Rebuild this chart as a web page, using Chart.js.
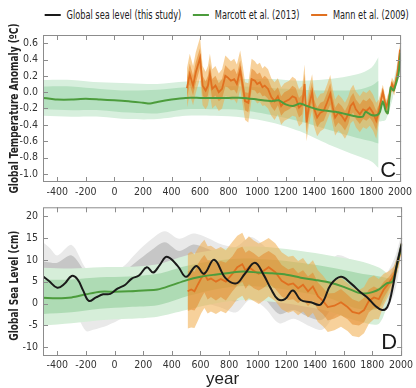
<!DOCTYPE html>
<html>
<head>
<meta charset="utf-8">
<script src="https://cdn.jsdelivr.net/npm/chart.js@4.4.0/dist/chart.umd.min.js"></script>
<style>
body { margin: 0; background: #fff; width: 416px; height: 388px; overflow: hidden; position: relative; }
canvas { position: absolute; left: 0; }
#top { top: 0; }
#bot { top: 196px; }
#legend { position: absolute; top: 7px; right: 7px; display: flex; align-items: center;
  font: 12.5px "DejaVu Sans Condensed", "Liberation Sans Narrow", sans-serif; color: #222; white-space: nowrap;
  transform: scaleX(0.73); transform-origin: right center; }
#legend span { display: flex; align-items: center; margin-left: 16px; }
#legend i { display: inline-block; width: 22px; height: 2px; margin-right: 8px; }
</style>
</head>
<body>
<div id="legend"></div>
<canvas id="top" width="416" height="200"></canvas>
<canvas id="bot" width="416" height="192"></canvas>
<script>
var FONT = '"DejaVu Sans Condensed", "Liberation Sans Narrow", sans-serif';

// legend / series names
var seriesNames = ['Global sea level (this study)', 'Marcott et al. (2013)', 'Mann et al. (2009)'];
var seriesColors = ['#1a1a1a', '#4c9c3c', '#e07020'];

// tick labels
var xTicks = [-400, -200, 0, 200, 400, 600, 800, 1000, 1200, 1400, 1600, 1800, 2000];
var tempTicks = [-1.0, -0.8, -0.6, -0.4, -0.2, 0.0, 0.2, 0.4, 0.6];
var seaTicks = [-10, -5, 0, 5, 10, 15, 20];

// ---- panel C : temperature ----
var marcottTempYears = [-500,-450,-400,-300,-200,-100,0,100,200,250,300,400,500,600,700,800,900,1000,1100,1150,1200,1250,1300,1350,1400,1450,1500,1550,1600,1650,1700,1740,1760,1800,1840,1860,1880,1900,1915,1935,1955,1975,1990,2005];
var marcottTemp = [-0.07,-0.08,-0.09,-0.09,-0.08,-0.09,-0.10,-0.11,-0.13,-0.14,-0.12,-0.09,-0.07,-0.07,-0.07,-0.07,-0.07,-0.09,-0.11,-0.10,-0.15,-0.17,-0.14,-0.17,-0.20,-0.22,-0.23,-0.24,-0.26,-0.28,-0.30,-0.30,-0.24,-0.28,-0.28,-0.24,-0.11,-0.23,-0.26,0.06,0.02,0.12,0.22,0.48];

var tempBandYears = [-500,-300,-100,100,300,500,700,900,1100,1300,1500,1700,1800,1850];
var tempOuterHi = [0.15,0.15,0.12,0.11,0.10,0.13,0.15,0.16,0.16,0.14,0.16,0.22,0.30,0.43];
var tempOuterLo = [-0.29,-0.30,-0.30,-0.33,-0.33,-0.29,-0.29,-0.31,-0.37,-0.48,-0.64,-0.78,-0.85,-0.93];
var tempInnerHi = [0.07,0.07,0.04,0.02,0.03,0.06,0.07,0.07,0.05,0.03,0.02,0.03,0.08,0.14];
var tempInnerLo = [-0.21,-0.22,-0.22,-0.25,-0.26,-0.21,-0.21,-0.22,-0.28,-0.36,-0.46,-0.56,-0.60,-0.63];
var tempRecentYears = [1852,1900,1950,2005];
var tempRecentHi = [-0.14,-0.14,0.10,0.56];
var tempRecentLo = [-0.36,-0.34,-0.07,0.40];

var mannTempYears = [508,528,551,570,600,618,639,655,669,685,708,731,754,777,793,816,839,858,881,899,915,938,961,984,1000,1019,1037,1053,1076,1099,1122,1145,1168,1191,1224,1247,1270,1293,1316,1332,1346,1362,1385,1397,1420,1443,1466,1489,1512,1530,1546,1569,1592,1615,1638,1654,1673,1691,1719,1742,1765,1788,1811,1834,1852,1880,1903,1921,1944,1960,1983,2000];
var mannTemp = [0.05,0.22,0.08,0.24,0.42,0.08,0.02,0.08,0.22,0.04,0.08,0.00,0.04,0.20,0.18,0.14,0.16,0.10,0.27,0.08,-0.11,-0.13,0.16,0.14,0.10,0.12,0.06,0.08,0.04,-0.06,-0.11,-0.05,-0.17,-0.12,-0.09,-0.05,-0.07,-0.19,-0.15,0.10,-0.37,-0.17,0.00,-0.19,-0.31,-0.25,-0.23,-0.13,-0.02,-0.19,-0.31,-0.25,-0.29,-0.35,-0.27,-0.17,-0.13,-0.21,-0.27,-0.21,-0.23,-0.19,-0.25,-0.35,-0.23,0.00,-0.19,-0.09,0.10,0.04,0.24,0.52];
var mannTempInner = [0.12,0.13,0.12,0.13,0.12,0.12,0.11,0.12,0.13,0.12,0.12,0.11,0.12,0.13,0.12,0.12,0.13,0.12,0.12,0.12,0.11,0.12,0.13,0.12,0.12,0.12,0.11,0.12,0.12,0.12,0.12,0.11,0.12,0.12,0.12,0.13,0.12,0.12,0.12,0.13,0.12,0.12,0.12,0.11,0.12,0.12,0.12,0.12,0.13,0.12,0.12,0.12,0.12,0.12,0.12,0.11,0.12,0.12,0.12,0.12,0.12,0.12,0.12,0.12,0.08,0.05,0.05,0.05,0.04,0.04,0.04,0.04];
var mannTempOuter = [0.24,0.25,0.24,0.25,0.25,0.24,0.23,0.24,0.25,0.24,0.24,0.23,0.24,0.25,0.24,0.24,0.25,0.24,0.24,0.24,0.23,0.24,0.25,0.24,0.24,0.24,0.23,0.24,0.24,0.23,0.23,0.22,0.23,0.23,0.23,0.24,0.23,0.23,0.23,0.24,0.23,0.22,0.22,0.22,0.23,0.23,0.22,0.22,0.23,0.22,0.22,0.22,0.22,0.22,0.22,0.21,0.22,0.22,0.22,0.22,0.22,0.22,0.22,0.22,0.14,0.09,0.09,0.09,0.08,0.08,0.08,0.07];

// ---- panel D : sea level ----
var blackYears = [-500,-460,-400,-350,-300,-260,-220,-180,-130,-80,-30,20,75,120,170,225,270,315,365,440,500,570,625,695,775,850,910,980,1040,1090,1140,1190,1245,1300,1370,1440,1510,1580,1650,1720,1765,1820,1868,1905,1937,1972,2006];
var blackSea = [6.2,5.2,3.6,4.5,6.3,5.6,3.0,0.6,1.4,2.1,2.2,3.4,4.3,5.7,6.4,8.3,7.1,8.8,10.7,8.6,6.1,8.6,6.8,10.0,5.8,4.6,6.8,9.3,6.6,3.5,1.0,1.0,3.0,0.8,0.3,-0.2,4.3,6.1,4.6,2.5,1.4,-0.5,-1.5,-0.8,2.8,9.0,13.7];

var greyYears = [-500,-450,-400,-300,-200,-150,-50,50,150,250,350,450,550,650,750,850,950,1050,1150,1250,1350,1450,1550,1650,1750,1850,1950,2005];
var greyLightHi = [14.0,12.6,11.0,13.4,8.0,7.5,7.5,8.2,11.5,14.5,16.5,14.8,16.0,15.0,13.5,13.0,15.2,13.0,9.5,10.0,8.5,7.5,11.0,10.0,8.0,5.0,10.0,16.0];
var greyDarkHi = [9.6,9.4,9.3,11.0,7.0,6.0,6.0,7.0,9.5,12.0,14.0,12.0,13.5,12.5,11.0,10.5,12.8,10.5,6.5,7.5,5.5,4.5,8.5,7.5,5.5,2.5,8.5,15.0];
var greyDarkLo = [1.5,0.5,-0.5,1.5,-3.5,-3.5,-2.5,-1.0,0.5,2.5,5.5,3.5,3.5,2.5,1.5,0.5,3.0,1.0,-2.4,-1.5,-3.0,-3.7,0.0,-1.0,-2.0,-2.5,4.0,12.5];
var greyLightLo = [-1.5,-2.5,-3.0,-1.0,-6.3,-6.0,-5.0,-3.5,-2.0,0.0,2.0,1.0,1.0,0.0,-1.0,-2.0,1.0,-1.0,-4.5,-3.5,-5.0,-6.0,-2.5,-3.0,-3.0,-3.0,2.0,11.0];

var marcottSeaYears = [-500,-400,-300,-200,-100,0,100,200,300,400,500,600,700,800,900,1000,1100,1200,1300,1400,1500,1600,1700,1750,1800,1850,1900,1940,1970,2005];
var marcottSea = [1.3,1.2,1.4,2.1,2.7,2.7,2.8,3.0,3.2,4.2,5.3,6.1,6.6,7.0,7.3,7.1,6.9,6.6,5.9,5.4,4.8,3.8,2.5,2.3,2.6,3.3,4.6,5.0,8.5,13.5];

var seaBandYears = [-500,-300,-100,100,300,500,700,900,1100,1300,1500,1700,1850,1935];
var seaOuterHi = [8.2,8.0,8.3,8.4,9.0,11.0,12.3,13.0,12.8,12.0,11.0,9.8,8.2,6.0];
var seaOuterLo = [-5.0,-4.5,-3.8,-3.5,-3.0,-1.5,0.0,0.8,0.4,-0.5,-1.8,-4.0,-4.5,4.0];
var seaInnerHi = [5.4,5.5,6.0,6.2,6.8,8.6,9.8,10.3,10.0,9.3,8.3,7.0,6.2,5.6];
var seaInnerLo = [-2.4,-2.0,-1.2,-0.8,-0.4,1.6,3.2,4.0,3.6,2.6,1.2,-1.2,-1.0,4.4];

var mannSeaYears = [510,535,558,581,604,627,650,673,708,742,777,823,857,892,915,938,972,1007,1041,1076,1122,1167,1213,1247,1282,1316,1351,1385,1420,1455,1489,1535,1581,1627,1661,1707,1742,1776,1811,1845,1880,1914,1949,1983,2006];
var mannSea = [2.8,3.2,2.8,4.3,5.7,6.8,5.4,5.7,5.0,5.6,5.0,6.8,8.3,9.0,7.5,8.3,7.5,6.8,7.5,8.3,7.2,5.2,4.3,4.6,3.5,4.3,2.8,3.9,1.7,0.6,-0.8,-0.5,0.3,-0.8,-1.9,-2.3,-1.5,0.6,1.4,1.0,3.2,4.6,6.4,9.7,13.7];
var mannSeaInner = [4.5,4.6,4.4,4.7,4.5,4.3,4.5,4.2,4.3,4.1,4.3,4.0,4.2,4.0,4.1,3.9,4.0,3.8,3.9,3.7,3.8,3.6,3.5,3.6,3.4,3.3,3.4,3.2,3.1,3.0,3.1,2.9,3.0,2.8,2.9,2.7,2.8,2.6,2.5,2.3,1.8,1.4,1.0,0.8,0.6];
var mannSeaOuter = [8.5,8.7,8.4,8.3,8.0,7.8,7.7,7.5,7.4,7.3,7.2,7.3,7.2,7.2,7.0,7.1,6.9,6.9,6.8,6.7,6.6,6.5,6.4,6.3,6.2,6.1,6.0,6.0,5.9,5.8,5.7,5.6,5.6,5.5,5.5,5.4,5.3,5.2,5.0,4.6,3.6,2.8,2.0,1.5,1.0];

// legend
var leg = document.getElementById('legend');
seriesNames.forEach(function (n, i) {
    var s = document.createElement('span');
    s.innerHTML = '<i style="background:' + seriesColors[i] + '"></i>' + n;
    leg.appendChild(s);
});

function pts(xs, ys) {
    return xs.map(function (x, k) { return {x: x, y: ys[k]}; });
}
function addLine(list, xs, ys, color, width, order, tension) {
    list.push({data: pts(xs, ys), borderColor: color, borderWidth: width, pointRadius: 0,
        fill: false, tension: tension || 0, order: order});
}
function addBand(list, xs, hi, lo, color, order, tension) {
    var i = list.length;
    list.push({data: pts(xs, hi), fill: i + 1, backgroundColor: color, borderWidth: 0,
        borderColor: 'transparent', pointRadius: 0, tension: tension || 0, order: order});
    list.push({data: pts(xs, lo), fill: false, borderWidth: 0, borderColor: 'transparent',
        pointRadius: 0, tension: tension || 0, order: order});
}
function plus(a, b, s) {
    return a.map(function (v, k) { return v + s * b[k]; });
}

// frame, inner tick marks, y title (condensed) and panel letter
var frame = {
    id: 'frame',
    afterDatasetsDraw: function (chart, args, opts) {
        var ctx = chart.ctx, a = chart.chartArea, x = chart.scales.x, y = chart.scales.y;
        ctx.save();
        ctx.strokeStyle = '#8c8c8c';
        ctx.lineWidth = 1;
        ctx.strokeRect(a.left + 0.5, a.top + 0.5, a.right - a.left - 1, a.bottom - a.top - 1);
        ctx.beginPath();
        x.ticks.forEach(function (t) {
            var p = Math.round(x.getPixelForValue(t.value)) + 0.5;
            ctx.moveTo(p, a.top); ctx.lineTo(p, a.top + 5);
            ctx.moveTo(p, a.bottom); ctx.lineTo(p, a.bottom - 5);
        });
        y.ticks.forEach(function (t) {
            var p = Math.round(y.getPixelForValue(t.value)) + 0.5;
            ctx.moveTo(a.left, p); ctx.lineTo(a.left + 5, p);
            ctx.moveTo(a.right, p); ctx.lineTo(a.right - 5, p);
        });
        ctx.stroke();
        ctx.fillStyle = '#1a1a1a';
        ctx.font = '22px "Liberation Sans", Arial, sans-serif';
        ctx.textAlign = 'right';
        ctx.textBaseline = 'alphabetic';
        ctx.fillText(opts.letter, a.right - 5, a.bottom - opts.lift);
        ctx.translate(15, (a.top + a.bottom) / 2 + opts.titleShift);
        ctx.rotate(-Math.PI / 2);
        ctx.scale(0.8, 1);
        ctx.font = 'bold 12.5px ' + FONT;
        ctx.textAlign = 'center';
        ctx.textBaseline = 'middle';
        ctx.fillStyle = '#222';
        ctx.fillText(opts.title, 0, 0);
        ctx.restore();
    }
};

function makeScales(yMin, yMax, yT, fmt, xHeight, xPad, xTitle) {
    return {
        x: {
            type: 'linear', min: -500, max: 2008,
            grid: {display: false, drawTicks: false}, border: {display: false},
            ticks: {font: {family: FONT, size: 10.5}, color: '#333', padding: xPad, maxRotation: 0,
                callback: function (v) { return String(v); }},
            afterBuildTicks: function (s) { s.ticks = xTicks.map(function (v) { return {value: v}; }); },
            afterFit: function (s) { s.height = xHeight; },
            title: xTitle ? {display: true, text: xTitle, color: '#222',
                font: {family: '"Liberation Sans", Arial, sans-serif', size: 17, lineHeight: 1},
                padding: {top: 0, bottom: 0}} : {display: false}
        },
        y: {
            min: yMin, max: yMax,
            grid: {display: false, drawTicks: false}, border: {display: false},
            ticks: {font: {family: FONT, size: 10.5}, color: '#333', padding: 5, callback: fmt},
            afterBuildTicks: function (s) { s.ticks = yT.map(function (v) { return {value: v}; }); },
            afterFit: function (s) { s.width = 43; }
        }
    };
}

// panel C datasets
var dsC = [];
addLine(dsC, marcottTempYears, marcottTemp, seriesColors[1], 2, 1, 0.2);
addLine(dsC, mannTempYears, mannTemp, seriesColors[2], 1.8, 2, 0);
addBand(dsC, mannTempYears, plus(mannTemp, mannTempInner, 1), plus(mannTemp, mannTempInner, -1), 'rgba(228,132,36,0.55)', 10, 0);
addBand(dsC, mannTempYears, plus(mannTemp, mannTempOuter, 1), plus(mannTemp, mannTempOuter, -1), 'rgba(240,172,72,0.55)', 11, 0);
addBand(dsC, tempBandYears, tempInnerHi, tempInnerLo, '#b5e0c0', 20, 0.3);
addBand(dsC, tempBandYears, tempOuterHi, tempOuterLo, '#d7efdd', 21, 0.3);
addBand(dsC, tempRecentYears, tempRecentHi, tempRecentLo, '#d7efdd', 21, 0.2);

new Chart(document.getElementById('top'), {
    type: 'line',
    data: {datasets: dsC},
    options: {
        responsive: false, animation: false,
        layout: {padding: {top: 35, right: 9, left: 0, bottom: 0}},
        scales: makeScales(-1.1, 0.7, tempTicks, function (v) { return v.toFixed(1); }, 18, 4, null),
        plugins: {legend: {display: false}, tooltip: {enabled: false},
            frame: {letter: 'C', lift: 5, title: 'Global Temperature Anomaly (\u00baC)', titleShift: 0}}
    },
    plugins: [frame]
});

// panel D datasets
var dsD = [];
addLine(dsD, blackYears, blackSea, seriesColors[0], 2, 0, 0.4);
addLine(dsD, marcottSeaYears, marcottSea, seriesColors[1], 2, 1, 0.3);
addLine(dsD, mannSeaYears, mannSea, seriesColors[2], 1.8, 2, 0);
addBand(dsD, mannSeaYears, plus(mannSea, mannSeaInner, 1), plus(mannSea, mannSeaInner, -1), 'rgba(228,132,36,0.5)', 10, 0);
addBand(dsD, mannSeaYears, plus(mannSea, mannSeaOuter, 1), plus(mannSea, mannSeaOuter, -1), 'rgba(240,172,72,0.55)', 11, 0);
addBand(dsD, seaBandYears, seaInnerHi, seaInnerLo, '#aedbb4', 20, 0.3);
addBand(dsD, seaBandYears, seaOuterHi, seaOuterLo, '#d6eed9', 21, 0.3);
addBand(dsD, greyYears, greyDarkHi, greyDarkLo, '#c6c6c6', 30, 0.3);
addBand(dsD, greyYears, greyLightHi, greyLightLo, '#e9e9e9', 31, 0.3);

new Chart(document.getElementById('bot'), {
    type: 'line',
    data: {datasets: dsD},
    options: {
        responsive: false, animation: false,
        layout: {padding: {top: 5, right: 9, left: 0, bottom: 0}},
        scales: makeScales(-12, 22, seaTicks, function (v) { return String(v); }, 32, 3, 'year'),
        plugins: {legend: {display: false}, tooltip: {enabled: false},
            frame: {letter: 'D', lift: 7, title: 'Global Sea Level (cm)', titleShift: 4}}
    },
    plugins: [frame]
});
</script>
</body>
</html>
